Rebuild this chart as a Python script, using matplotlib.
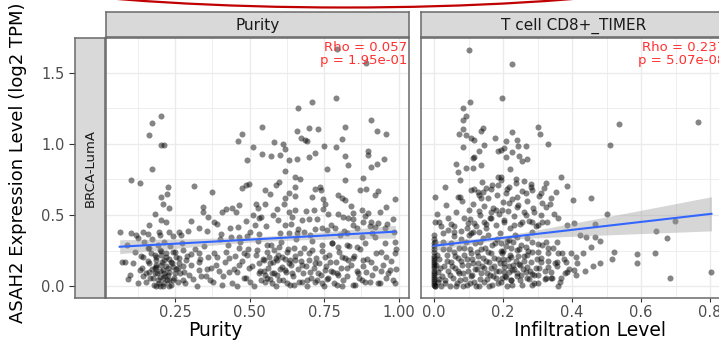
import numpy as np
import matplotlib
matplotlib.use("Agg")
import matplotlib.pyplot as plt
from matplotlib.patches import Arc

# ---------------- data ----------------
facet_titles = ["Purity", "T cell CD8+_TIMER"]
row_label = "BRCA-LumA"
rho_text = ["Rho = 0.057\np = 1.95e-01", "Rho = 0.237\np = 5.07e-08"]
x_titles = ["Purity", "Infiltration Level"]
y_title = "ASAH2 Expression Level (log2 TPM)"
y_ticks = [0.0, 0.5, 1.0, 1.5]
purity_ticks = [0.25, 0.50, 0.75, 1.00]
purity_ticklabels = ["0.25", "0.50", "0.75", "1.00"]
infil_ticks = [0.0, 0.2, 0.4, 0.6, 0.8]
infil_ticklabels = ["0.0", "0.2", "0.4", "0.6", "0.8"]

# linear-fit lines:
# intercept, slope, x start, x end, x of narrowest band, half-width there, half-width at x end
purity_fit = (0.2697, 0.1146, 0.064, 0.989, 0.55, 0.018, 0.045)
cd8_fit = (0.284, 0.279, 0.000, 0.804, 0.17, 0.014, 0.120)

# purity panel: (purity, expression)
purity_pts = [
    (0.793, 1.665), (0.889, 1.570),
    (0.203, 1.198), (0.172, 1.146), (0.162, 1.064), (0.203, 0.993), (0.214, 0.993),
    (0.173, 0.824), (0.103, 0.747), (0.133, 0.723), (0.226, 0.695), (0.312, 0.705),
    (0.203, 0.625), (0.222, 0.646), (0.209, 0.578), (0.231, 0.547), (0.184, 0.507),
    (0.342, 0.559), (0.342, 0.524), (0.303, 0.458), (0.162, 0.430), (0.203, 0.465),
    (0.220, 0.449), (0.331, 0.411), (0.064, 0.383), (0.103, 0.376), (0.142, 0.383),
    (0.159, 0.367), (0.196, 0.383), (0.231, 0.383), (0.264, 0.383), (0.292, 0.390),
    (0.126, 0.336), (0.198, 0.360), (0.242, 0.353), (0.270, 0.360),
    (0.114, 0.242), (0.159, 0.266), (0.142, 0.207), (0.170, 0.231), (0.198, 0.254),
    (0.242, 0.242), (0.276, 0.254), (0.303, 0.226), (0.331, 0.235),
    (0.081, 0.172), (0.109, 0.160), (0.131, 0.113), (0.164, 0.160), (0.187, 0.184),
    (0.214, 0.184), (0.237, 0.172), (0.264, 0.160), (0.287, 0.184), (0.331, 0.172),
    (0.092, 0.050), (0.142, 0.071), (0.153, 0.090), (0.181, 0.090), (0.198, 0.066),
    (0.214, 0.090), (0.231, 0.043), (0.248, 0.090), (0.259, 0.125), (0.281, 0.102),
    (0.331, 0.113), (0.337, 0.071), (0.353, 0.071), (0.187, 0.000), (0.198, 0.000),
    (0.214, 0.019), (0.231, 0.000), (0.242, 0.043), (0.276, 0.043),
    (0.187, 0.207), (0.203, 0.219), (0.220, 0.207), (0.187, 0.137), (0.203, 0.149),
    (0.226, 0.125), (0.176, 0.054), (0.192, 0.043), (0.209, 0.054), (0.226, 0.078),
    (0.242, 0.137), (0.253, 0.207), (0.164, 0.102), (0.181, 0.125), (0.209, 0.113),
    (0.661, 1.252), (0.542, 1.115), (0.473, 1.071), (0.462, 1.022), (0.512, 0.975),
    (0.581, 1.010), (0.611, 1.000), (0.620, 0.963), (0.659, 1.087), (0.673, 1.040),
    (0.687, 1.029), (0.492, 0.883), (0.542, 0.928), (0.572, 0.911), (0.601, 0.923),
    (0.631, 0.888), (0.659, 0.892), (0.620, 0.806), (0.651, 0.770), (0.670, 0.752),
    (0.473, 0.688), (0.487, 0.711), (0.498, 0.719), (0.590, 0.711), (0.598, 0.733),
    (0.551, 0.677), (0.570, 0.644), (0.653, 0.700), (0.631, 0.653), (0.620, 0.618),
    (0.651, 0.630), (0.373, 0.658), (0.522, 0.576), (0.551, 0.575), (0.592, 0.541),
    (0.633, 0.524), (0.651, 0.536), (0.422, 0.540), (0.440, 0.547), (0.453, 0.524),
    (0.512, 0.500), (0.531, 0.477), (0.537, 0.489), (0.518, 0.430), (0.362, 0.484),
    (0.596, 0.465), (0.620, 0.430), (0.642, 0.489), (0.676, 0.465), (0.392, 0.437),
    (0.461, 0.414), (0.403, 0.364), (0.437, 0.348), (0.464, 0.348), (0.492, 0.353),
    (0.531, 0.367), (0.631, 0.371), (0.659, 0.376), (0.681, 0.383),
    (0.362, 0.207), (0.392, 0.207), (0.420, 0.242), (0.431, 0.196), (0.464, 0.266),
    (0.481, 0.231), (0.492, 0.219), (0.526, 0.254), (0.559, 0.289), (0.581, 0.254),
    (0.598, 0.277), (0.626, 0.242), (0.648, 0.266), (0.670, 0.231),
    (0.370, 0.125), (0.398, 0.108), (0.431, 0.097), (0.448, 0.118), (0.464, 0.149),
    (0.498, 0.125), (0.531, 0.160), (0.548, 0.108), (0.570, 0.160), (0.592, 0.184),
    (0.609, 0.132), (0.631, 0.160), (0.653, 0.184), (0.676, 0.149),
    (0.376, 0.031), (0.409, 0.008), (0.459, 0.000), (0.481, 0.054), (0.503, 0.031),
    (0.537, 0.043), (0.559, 0.054), (0.576, 0.019), (0.598, 0.043), (0.626, 0.019),
    (0.648, 0.008), (0.676, 0.031),
    (0.548, 0.184), (0.564, 0.207), (0.587, 0.196), (0.609, 0.207), (0.637, 0.184),
    (0.620, 0.113), (0.642, 0.090), (0.576, 0.090), (0.592, 0.078), (0.553, 0.078),
    (0.531, 0.090),
    (0.790, 1.322), (0.709, 1.292), (0.909, 1.169), (0.700, 1.111), (0.731, 1.104),
    (0.820, 1.118), (0.929, 1.087), (0.959, 1.071), (0.809, 1.033), (0.692, 1.022),
    (0.751, 0.986), (0.790, 0.975), (0.898, 0.946), (0.898, 0.923), (0.720, 0.935),
    (0.700, 0.904), (0.820, 0.911), (0.829, 0.853), (0.950, 0.892), (0.929, 0.857),
    (0.909, 0.834), (0.761, 0.822), (0.820, 0.747), (0.879, 0.761), (0.720, 0.684),
    (0.737, 0.700), (0.740, 0.672), (0.870, 0.677), (0.892, 0.684), (0.920, 0.641),
    (0.931, 0.670), (0.798, 0.641), (0.809, 0.618), (0.820, 0.606), (0.709, 0.625),
    (0.748, 0.611), (0.987, 0.611), (0.959, 0.559), (0.715, 0.536), (0.748, 0.543),
    (0.762, 0.505), (0.848, 0.512), (0.876, 0.536), (0.898, 0.512), (0.814, 0.489),
    (0.831, 0.477), (0.848, 0.470), (0.698, 0.470), (0.909, 0.449), (0.931, 0.442),
    (0.981, 0.470), (0.848, 0.430), (0.881, 0.453), (0.720, 0.402), (0.742, 0.407),
    (0.759, 0.395), (0.787, 0.407), (0.903, 0.425), (0.920, 0.418), (0.953, 0.407),
    (0.803, 0.360), (0.826, 0.371), (0.876, 0.348), (0.920, 0.348),
    (0.709, 0.254), (0.742, 0.289), (0.776, 0.301), (0.798, 0.277), (0.826, 0.289),
    (0.859, 0.277), (0.887, 0.301), (0.942, 0.242), (0.987, 0.313),
    (0.698, 0.184), (0.720, 0.160), (0.753, 0.207), (0.770, 0.172), (0.809, 0.207),
    (0.831, 0.184), (0.848, 0.196), (0.881, 0.184), (0.909, 0.172), (0.959, 0.207),
    (0.987, 0.231),
    (0.703, 0.101), (0.731, 0.090), (0.753, 0.113), (0.781, 0.101), (0.798, 0.078),
    (0.826, 0.125), (0.865, 0.090), (0.892, 0.101), (0.920, 0.125), (0.942, 0.108),
    (0.970, 0.113),
    (0.692, 0.043), (0.720, 0.031), (0.742, 0.019), (0.764, 0.054), (0.792, 0.008),
    (0.809, 0.000), (0.853, 0.008), (0.876, 0.043), (0.903, 0.031), (0.931, 0.019),
    (0.959, 0.054), (0.987, 0.019),
]

# further purity points in the dense lower cloud
purity_dense = [
    (0.152, 0.03), (0.158, 0.18), (0.163, 0.27), (0.167, 0.06), (0.171, 0.12),
    (0.174, 0.33), (0.178, 0.01), (0.182, 0.22), (0.185, 0.15), (0.189, 0.09),
    (0.193, 0.29), (0.196, 0.02), (0.199, 0.11), (0.202, 0.25), (0.205, 0.17),
    (0.208, 0.00), (0.211, 0.31), (0.215, 0.07), (0.218, 0.14), (0.221, 0.23),
    (0.224, 0.04), (0.228, 0.19), (0.231, 0.10), (0.234, 0.28), (0.237, 0.01),
    (0.241, 0.16), (0.245, 0.06), (0.249, 0.24), (0.253, 0.12), (0.258, 0.03),
    (0.262, 0.20), (0.267, 0.09), (0.272, 0.30), (0.277, 0.14), (0.283, 0.02),
    (0.289, 0.21), (0.296, 0.08), (0.302, 0.15), (0.309, 0.05), (0.316, 0.26),
    (0.322, 0.00), (0.335, 0.19), (0.347, 0.28), (0.358, 0.12), (0.366, 0.04),
    (0.379, 0.23), (0.388, 0.15), (0.401, 0.33), (0.412, 0.07), (0.419, 0.17),
    (0.428, 0.29), (0.441, 0.02), (0.452, 0.21), (0.458, 0.10), (0.469, 0.31),
    (0.476, 0.18), (0.487, 0.06), (0.495, 0.26), (0.507, 0.14), (0.514, 0.00),
    (0.521, 0.22), (0.529, 0.32), (0.536, 0.11), (0.544, 0.19), (0.551, 0.03),
    (0.558, 0.24), (0.562, 0.13), (0.567, 0.05), (0.573, 0.29), (0.578, 0.17),
    (0.583, 0.09), (0.589, 0.00), (0.594, 0.22), (0.603, 0.12), (0.607, 0.31),
    (0.612, 0.04), (0.618, 0.19), (0.623, 0.10), (0.629, 0.26), (0.634, 0.01),
    (0.639, 0.15), (0.645, 0.07), (0.651, 0.21), (0.657, 0.33), (0.662, 0.12),
    (0.667, 0.03), (0.672, 0.18), (0.678, 0.09), (0.683, 0.27), (0.689, 0.14),
    (0.694, 0.00), (0.699, 0.23), (0.705, 0.06), (0.711, 0.32), (0.716, 0.13),
    (0.722, 0.20), (0.727, 0.04), (0.733, 0.16), (0.738, 0.08), (0.744, 0.25),
    (0.749, 0.00), (0.755, 0.14), (0.761, 0.05), (0.767, 0.22), (0.772, 0.11),
    (0.778, 0.30), (0.784, 0.02), (0.789, 0.17), (0.795, 0.09), (0.801, 0.24),
    (0.807, 0.13), (0.813, 0.04), (0.819, 0.20), (0.826, 0.07), (0.833, 0.28),
    (0.839, 0.15), (0.846, 0.01), (0.852, 0.21), (0.859, 0.11), (0.866, 0.06),
    (0.872, 0.26), (0.879, 0.14), (0.886, 0.03), (0.893, 0.19),
    (0.912, 0.08), (0.925, 0.23), (0.938, 0.02), (0.947, 0.15), (0.956, 0.30),
    (0.964, 0.09), (0.973, 0.18), (0.981, 0.04), (0.990, 0.26), (0.993, 0.12),
    (0.356, 0.39), (0.381, 0.45), (0.409, 0.52), (0.434, 0.41), (0.466, 0.57),
    (0.489, 0.46), (0.503, 0.38), (0.527, 0.55), (0.556, 0.42), (0.578, 0.50),
    (0.601, 0.37), (0.615, 0.58), (0.638, 0.44), (0.664, 0.40), (0.688, 0.53),
    (0.702, 0.36), (0.727, 0.47), (0.752, 0.58), (0.773, 0.43), (0.796, 0.51),
    (0.818, 0.39), (0.842, 0.56), (0.861, 0.41), (0.887, 0.49), (0.911, 0.37),
    (0.936, 0.52), (0.962, 0.44), (0.984, 0.38),
    (0.072, 0.17), (0.088, 0.29), (0.097, 0.08), (0.119, 0.36), (0.124, 0.02),
    (0.136, 0.21), (0.147, 0.31), (0.139, 0.13),
]

# CD8+ T cell panel: (infiltration, expression)
cd8_pts = [
    (0.102, 1.657), (0.104, 1.291), (0.085, 1.251), (0.092, 1.192), (0.085, 1.169),
    (0.141, 1.110), (0.136, 1.087), (0.085, 1.103), (0.072, 1.068), (0.092, 1.064),
    (0.107, 1.040), (0.117, 1.028), (0.177, 1.040), (0.146, 0.993), (0.085, 0.976),
    (0.131, 0.946), (0.117, 0.910), (0.112, 0.899), (0.185, 0.946), (0.063, 0.856),
    (0.092, 0.828), (0.112, 0.833), (0.136, 0.852), (0.069, 0.805), (0.074, 0.746),
    (0.031, 0.699), (0.002, 0.629), (0.107, 0.676), (0.117, 0.680), (0.141, 0.664),
    (0.131, 0.641), (0.136, 0.617), (0.151, 0.687), (0.165, 0.680), (0.069, 0.629),
    (0.074, 0.624), (0.185, 0.770), (0.185, 0.711), (0.102, 0.535), (0.131, 0.530),
    (0.165, 0.523), (0.180, 0.535), (0.002, 0.453), (0.015, 0.453), (0.040, 0.476),
    (0.058, 0.422), (0.088, 0.476), (0.098, 0.446), (0.117, 0.441), (0.146, 0.453),
    (0.165, 0.476), (0.000, 0.359), (0.025, 0.375), (0.040, 0.394), (0.059, 0.382),
    (0.078, 0.389), (0.107, 0.371), (0.131, 0.382), (0.151, 0.406),
    (0.227, 1.563), (0.196, 1.321), (0.227, 1.086), (0.302, 1.117), (0.306, 1.070),
    (0.331, 0.999), (0.209, 1.023), (0.202, 0.969), (0.193, 0.957), (0.241, 1.028),
    (0.243, 0.986), (0.265, 0.986), (0.208, 0.910), (0.227, 0.939), (0.246, 0.915),
    (0.270, 0.892), (0.256, 0.882), (0.219, 0.821), (0.367, 0.770), (0.386, 0.704),
    (0.324, 0.727), (0.193, 0.746), (0.217, 0.699), (0.236, 0.722), (0.261, 0.741),
    (0.280, 0.699), (0.309, 0.657), (0.338, 0.617), (0.314, 0.582), (0.324, 0.558),
    (0.403, 0.605), (0.208, 0.652), (0.241, 0.629), (0.265, 0.652), (0.285, 0.676),
    (0.360, 0.476), (0.289, 0.523), (0.265, 0.500), (0.241, 0.558), (0.217, 0.582),
    (0.198, 0.535), (0.203, 0.464), (0.232, 0.429), (0.256, 0.453), (0.285, 0.453),
    (0.302, 0.429), (0.314, 0.453), (0.386, 0.429), (0.405, 0.441),
    (0.193, 0.300), (0.217, 0.324), (0.241, 0.347), (0.265, 0.277), (0.285, 0.312),
    (0.302, 0.295), (0.324, 0.312), (0.357, 0.312),
    (0.198, 0.230), (0.222, 0.206), (0.241, 0.253), (0.270, 0.218), (0.302, 0.241),
    (0.331, 0.230), (0.360, 0.230), (0.396, 0.230),
    (0.203, 0.136), (0.227, 0.112), (0.246, 0.159), (0.270, 0.136), (0.285, 0.089),
    (0.309, 0.171), (0.331, 0.136), (0.355, 0.171), (0.382, 0.171), (0.410, 0.206),
    (0.208, 0.065), (0.222, 0.042), (0.251, 0.077), (0.285, 0.007), (0.302, 0.077),
    (0.324, 0.054), (0.343, 0.060), (0.367, 0.060), (0.386, 0.100), (0.405, 0.112),
    (0.410, 0.077),
    (0.535, 1.138), (0.765, 1.150), (0.511, 0.993), (0.456, 0.617), (0.500, 0.504),
    (0.467, 0.436), (0.697, 0.460), (0.644, 0.389), (0.424, 0.359), (0.441, 0.342),
    (0.467, 0.347), (0.480, 0.314), (0.675, 0.340), (0.454, 0.272), (0.431, 0.230),
    (0.522, 0.241), (0.516, 0.194), (0.588, 0.225), (0.588, 0.166), (0.641, 0.230),
    (0.414, 0.164), (0.462, 0.145), (0.480, 0.164), (0.436, 0.105), (0.683, 0.058),
    (0.804, 0.103),
]

# further CD8+ points in the dense lower-left cloud
cd8_dense = [
    (0.000, 0.020), (0.000, 0.050), (0.000, 0.080), (0.000, 0.110), (0.000, 0.140),
    (0.000, 0.170), (0.000, 0.200), (0.000, 0.240), (0.000, 0.280), (0.002, 0.000),
    (0.003, 0.310), (0.010, 0.030), (0.012, 0.100), (0.015, 0.190), (0.020, 0.000),
    (0.022, 0.070), (0.025, 0.260), (0.030, 0.140), (0.033, 0.040), (0.036, 0.220),
    (0.040, 0.110), (0.045, 0.000), (0.048, 0.170), (0.050, 0.300), (0.055, 0.060),
    (0.058, 0.240), (0.062, 0.130), (0.066, 0.020), (0.070, 0.200), (0.073, 0.090),
    (0.077, 0.330), (0.080, 0.150), (0.083, 0.000), (0.086, 0.270), (0.090, 0.050),
    (0.094, 0.190), (0.097, 0.110), (0.100, 0.360), (0.104, 0.020), (0.107, 0.230),
    (0.110, 0.080), (0.114, 0.160), (0.118, 0.300), (0.121, 0.000), (0.125, 0.120),
    (0.128, 0.210), (0.132, 0.050), (0.135, 0.260), (0.139, 0.140), (0.142, 0.340),
    (0.146, 0.030), (0.150, 0.180), (0.153, 0.090), (0.157, 0.240), (0.160, 0.000),
    (0.164, 0.130), (0.168, 0.290), (0.171, 0.070), (0.175, 0.200), (0.178, 0.110),
    (0.182, 0.330), (0.186, 0.020), (0.190, 0.160), (0.193, 0.250), (0.197, 0.060),
    (0.200, 0.190), (0.204, 0.100), (0.208, 0.280), (0.212, 0.000), (0.216, 0.140),
    (0.220, 0.220), (0.224, 0.040), (0.228, 0.310), (0.232, 0.120), (0.236, 0.180),
    (0.240, 0.070), (0.245, 0.260), (0.250, 0.150), (0.255, 0.010), (0.260, 0.210),
    (0.265, 0.100), (0.270, 0.340), (0.275, 0.050), (0.280, 0.170), (0.285, 0.240),
    (0.290, 0.080), (0.295, 0.130), (0.300, 0.020), (0.310, 0.200), (0.320, 0.110),
    (0.330, 0.270), (0.340, 0.060), (0.350, 0.160), (0.360, 0.000), (0.370, 0.230),
    (0.380, 0.090),
    (0.000, 0.010), (0.000, 0.035), (0.000, 0.065), (0.000, 0.095), (0.000, 0.125),
    (0.000, 0.155), (0.000, 0.185), (0.000, 0.215), (0.000, 0.260), (0.000, 0.300),
    (0.001, 0.330), (0.004, 0.000), (0.006, 0.150), (0.008, 0.220),
    (0.014, 0.05), (0.018, 0.13), (0.027, 0.31), (0.031, 0.02), (0.038, 0.18),
    (0.043, 0.26), (0.047, 0.08), (0.052, 0.14), (0.057, 0.35), (0.061, 0.21),
    (0.064, 0.00), (0.068, 0.11), (0.072, 0.27), (0.076, 0.04), (0.079, 0.18),
    (0.084, 0.09), (0.088, 0.22), (0.092, 0.31), (0.096, 0.01), (0.099, 0.15),
    (0.103, 0.26), (0.106, 0.07), (0.109, 0.19), (0.113, 0.38), (0.116, 0.03),
    (0.119, 0.12), (0.123, 0.24), (0.127, 0.16), (0.131, 0.00), (0.134, 0.31),
    (0.137, 0.09), (0.141, 0.20), (0.144, 0.13), (0.148, 0.27), (0.152, 0.05),
    (0.155, 0.36), (0.159, 0.17), (0.162, 0.08), (0.166, 0.23), (0.169, 0.01),
    (0.173, 0.14), (0.176, 0.30), (0.180, 0.06), (0.184, 0.19), (0.188, 0.11),
    (0.191, 0.37), (0.195, 0.03), (0.199, 0.25), (0.202, 0.16), (0.206, 0.07),
    (0.210, 0.32), (0.214, 0.19), (0.218, 0.10), (0.223, 0.27), (0.226, 0.01),
    (0.230, 0.15), (0.234, 0.36), (0.239, 0.09), (0.243, 0.21), (0.248, 0.04),
    (0.252, 0.29), (0.257, 0.12), (0.262, 0.18), (0.268, 0.06), (0.273, 0.25),
    (0.279, 0.11), (0.284, 0.38), (0.291, 0.02), (0.298, 0.19), (0.305, 0.13),
    (0.313, 0.29), (0.321, 0.05), (0.329, 0.18), (0.338, 0.10), (0.346, 0.27),
    (0.356, 0.14), (0.365, 0.03), (0.376, 0.19), (0.392, 0.12),
    (0.105, 0.47), (0.112, 0.58), (0.121, 0.42), (0.126, 0.66), (0.133, 0.50),
    (0.139, 0.73), (0.145, 0.56), (0.149, 0.44), (0.156, 0.62), (0.161, 0.48),
    (0.167, 0.71), (0.172, 0.55), (0.178, 0.43), (0.183, 0.64), (0.188, 0.51),
    (0.194, 0.77), (0.199, 0.59), (0.204, 0.45), (0.211, 0.68), (0.215, 0.53),
    (0.221, 0.41), (0.226, 0.61), (0.231, 0.49), (0.237, 0.75), (0.244, 0.57),
    (0.249, 0.44), (0.255, 0.67), (0.261, 0.52), (0.268, 0.60), (0.274, 0.46),
    (0.281, 0.72), (0.288, 0.55), (0.295, 0.42), (0.303, 0.63), (0.311, 0.50),
    (0.319, 0.69), (0.327, 0.45), (0.336, 0.58), (0.348, 0.51), (0.352, 0.66),
    (0.008, 0.51), (0.021, 0.42), (0.034, 0.57), (0.049, 0.44), (0.063, 0.52),
    (0.081, 0.60), (0.094, 0.41),
]

purity_all = purity_pts + purity_dense
cd8_all = cd8_pts + cd8_dense
purity_x = np.array([p[0] for p in purity_all])
purity_y = np.array([p[1] for p in purity_all])
cd8_x = np.array([p[0] for p in cd8_all])
cd8_y = np.array([p[1] for p in cd8_all])

# ---------------- layout ----------------
W, H = 719, 341
fig = plt.figure(figsize=(W / 100, H / 100), dpi=100)
fig.patch.set_facecolor("white")

def rect(x0, y0, x1, y1):
    return [x0 / W, 1 - y1 / H, (x1 - x0) / W, (y1 - y0) / H]

axL = fig.add_axes(rect(106, 38, 409, 298))
axR = fig.add_axes(rect(421, 38, 727, 298))
stripL = fig.add_axes(rect(75, 38, 105, 298))
stripTL = fig.add_axes(rect(106, 12, 409, 37))
stripTR = fig.add_axes(rect(421, 12, 727, 37))

border = "#6a6a6a"
grid_c = "#EBEBEB"
ylim = (-0.083, 1.743)

def draw_fit(ax, fit):
    a, b, x0, x1, xc, hc, he = fit
    xs = np.linspace(x0, x1, 100)
    yhat = a + b * xs
    k = ((he / hc) ** 2 - 1) / (x1 - xc) ** 2
    half = hc * np.sqrt(1 + k * (xs - xc) ** 2)
    ax.fill_between(xs, yhat - half, yhat + half, color="#999999",
                    alpha=0.4, lw=0, zorder=3)
    ax.plot(xs, yhat, color="#3366FF", lw=1.5, zorder=4)

panels = [
    (axL, purity_x, purity_y, purity_fit, (0.018, 1.035), purity_ticks,
     purity_ticklabels, np.arange(0.125, 1.01, 0.25)),
    (axR, cd8_x, cd8_y, cd8_fit, (-0.038, 0.849), infil_ticks, infil_ticklabels,
     np.arange(0.1, 0.85, 0.2)),
]
for i, (ax, x, y, fit, xl, xt, xtl, xminor) in enumerate(panels):
    ax.set_facecolor("white")
    ax.set_xlim(*xl)
    ax.set_ylim(*ylim)
    ax.set_xticks(xt)
    ax.set_xticklabels(xtl)
    ax.set_xticks(xminor, minor=True)
    ax.set_yticks(y_ticks)
    ax.set_yticks([0.25, 0.75, 1.25], minor=True)
    ax.grid(which="major", color=grid_c, lw=1.0, zorder=0)
    ax.grid(which="minor", color=grid_c, lw=0.6, zorder=0)
    ax.set_axisbelow(True)
    ax.tick_params(axis="y", which="both", left=False, labelleft=False)
    ax.tick_params(axis="x", which="minor", bottom=False)
    ax.tick_params(axis="x", which="major", length=3.2, width=0.8, color="#333333",
                   labelsize=10.5, labelcolor="#4D4D4D", pad=2.0)
    for sp in ax.spines.values():
        sp.set_color(border)
        sp.set_linewidth(1.1)
    ax.scatter(x, y, s=19, c="black", alpha=0.48, lw=0, zorder=2)
    draw_fit(ax, fit)
    ax.text(0.993, 0.988, rho_text[i], transform=ax.transAxes, ha="right",
            va="top", color="#FF3030", fontsize=9.5, linespacing=1.0, zorder=5)

# left strip carrying the y axis
stripL.set_facecolor("#D9D9D9")
stripL.set_ylim(*ylim)
stripL.set_xticks([])
stripL.set_yticks(y_ticks)
stripL.set_yticklabels([f"{v:.1f}" for v in y_ticks])
stripL.tick_params(axis="y", length=4, width=0.8, color="#333333", labelsize=10.5,
                   labelcolor="#4D4D4D", pad=3.5)
for sp in stripL.spines.values():
    sp.set_color(border)
    sp.set_linewidth(1.1)
stripL.text(0.5, 0.5, row_label, transform=stripL.transAxes, rotation=90,
            ha="center", va="center", fontsize=9.5, color="#1A1A1A")

for sax, title in ((stripTL, facet_titles[0]), (stripTR, facet_titles[1])):
    sax.set_facecolor("#D9D9D9")
    sax.set_xticks([])
    sax.set_yticks([])
    for sp in sax.spines.values():
        sp.set_color(border)
        sp.set_linewidth(1.1)
    sax.text(0.5, 0.45, title, transform=sax.transAxes, ha="center", va="center",
             fontsize=11, color="#1A1A1A")

# axis titles
fig.text(18 / W, 1 - 163 / H, y_title, rotation=90, ha="center", va="center",
         fontsize=13, color="black")
fig.text(215 / W, 1 - 330 / H, x_titles[0], ha="center", va="center",
         fontsize=13.5, color="black")
fig.text(590 / W, 1 - 330 / H, x_titles[1], ha="center", va="center",
         fontsize=13.5, color="black")

# red annotation arc at the top edge
arc = Arc((3.45, 4.01), 9.38, 1.35, theta1=180, theta2=360, color="#C00000",
          lw=1.6, transform=fig.dpi_scale_trans)
fig.add_artist(arc)

fig.savefig("out.png", dpi=100)
